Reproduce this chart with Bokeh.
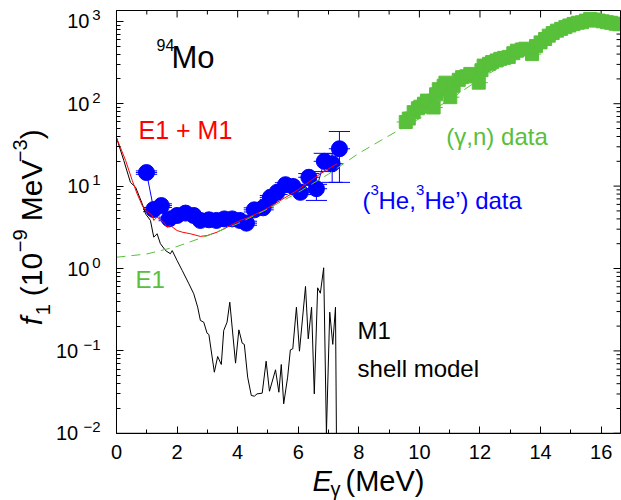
from bokeh.plotting import figure
from bokeh.models import FixedTicker, Label, Range1d, LinearAxis, LogAxis, BoxAnnotation
from bokeh.embed import file_html
from bokeh.resources import INLINE

# ---------------- data ----------------
# M1 shell model strength (black line); 0.01 = runs off the bottom of the scale
m1_x = [0.00, 0.24, 0.46, 0.63, 0.85, 0.96, 1.12, 1.23, 1.34, 1.45, 1.62, 1.78, 1.84, 2.00,
        2.17, 2.39, 2.55, 2.68, 2.77, 2.88, 2.99, 3.05, 3.23, 3.34, 3.46, 3.54, 3.65, 3.74,
        3.93, 4.04, 4.15, 4.22, 4.33, 4.45, 4.55, 4.64, 4.81, 4.94, 5.05, 5.25, 5.36, 5.44,
        5.52, 5.65, 5.74, 5.82, 5.94, 6.04, 6.24, 6.33, 6.44, 6.53, 6.64, 6.73, 6.84, 6.93,
        7.04, 7.14, 7.23, 7.26]
m1_y = [38.6, 20.5, 11.1, 9.7, 6.1, 4.6, 3.83, 2.4, 2.64, 2.0, 1.65, 1.51, 1.65, 1.25,
        0.946, 0.652, 0.493, 0.339, 0.234, 0.223, 0.164, 0.158, 0.0551, 0.0855, 0.0684, 0.177, 0.223, 0.390,
        0.0710, 0.180, 0.124, 0.120, 0.048, 0.0288, 0.0282, 0.0301, 0.0307, 0.075, 0.0324, 0.059, 0.0315, 0.0684,
        0.0228, 0.048, 0.103, 0.106, 0.339, 0.0992, 0.605, 0.140, 0.339, 0.0301, 0.583, 0.501, 1.02, 0.01,
        0.295, 0.120, 0.339, 0.01]

# E1 + M1 (red line)
sum_x = [0.00, 0.30, 0.52, 0.68, 0.85, 0.96, 1.18, 1.23, 1.34, 1.56, 1.67, 1.78, 2.00, 2.17,
         2.44, 2.77, 2.99, 3.32, 3.65, 3.87, 4.09, 4.31, 4.86, 5.96, 6.73, 7.28]
sum_y = [38.6, 20.5, 11.7, 8.07, 5.82, 5.06, 4.4, 3.83, 4.2, 3.65, 3.17, 3.32, 2.89, 2.76,
         2.64, 2.45, 2.51, 2.76, 3.17, 3.5, 3.83, 4.1, 5.06, 8.85, 14.1, 18.7]

# E1 (green dashed line)
e1_x = [0, 1, 2, 3, 4, 5, 6, 7, 8, 9, 10, 11, 12, 13, 14, 15, 16, 16.64]
e1_y = [1.37, 1.5, 1.85, 2.5, 3.5, 5.3, 8.4, 14, 25, 41, 66, 112, 200, 330, 520, 780, 980, 1000]

# (3He,3He') data (blue circles)
he_x = [0.99, 1.23, 1.48, 1.74, 2.00, 2.28, 2.55, 2.77, 3.05, 3.30, 3.56, 3.82, 4.07, 4.29,
        4.55, 4.84, 5.08, 5.30, 5.58, 5.83, 6.07, 6.35, 6.60, 6.86, 7.12, 7.36]
he_y = [14.6, 5.2, 5.8, 4.0, 4.4, 4.7, 4.4, 3.83, 3.9, 3.83, 4.0, 4.0, 3.83, 3.55,
        5.15, 5.45, 7.3, 8.4, 10.4, 9.9, 8.4, 12.8, 9.3, 20.0, 18.7, 28.4]
he_lo = [13.9, 4.9, 5.5, 3.8, 4.2, 4.45, 4.2, 3.65, 3.7, 3.65, 3.8, 3.8, 3.65, 3.35,
         4.85, 5.15, 6.9, 7.9, 9.8, 9.3, 7.9, 10.2, 6.7, 15.0, 11.1, 11.1]
he_hi = [15.3, 5.5, 6.1, 4.2, 4.6, 4.95, 4.6, 4.0, 4.1, 4.0, 4.2, 4.2, 4.0, 3.75,
         5.45, 5.75, 7.7, 8.9, 11.0, 10.5, 8.9, 14.2, 10.5, 25.0, 24.7, 46.0]
he_xerr = 0.35

# (gamma,n) data (green squares)
gn_x = [9.55, 9.65, 9.81, 9.95, 10.03, 10.15, 10.25, 10.47, 10.55, 10.64, 10.80, 10.86, 11.02,
        11.13, 11.30, 11.41, 11.55, 11.68, 11.96, 12.05, 12.12, 12.30, 12.40, 12.55, 12.67,
        12.80, 12.95, 13.10, 13.22, 13.38, 13.50, 13.72, 13.85, 14.00, 14.15, 14.27, 14.40,
        14.54, 14.68, 14.82, 14.95, 15.09, 15.23, 15.37, 15.50, 15.64, 15.78, 15.92, 16.05,
        16.19, 16.33, 16.47, 16.60]
gn_y = [60, 66, 79, 88, 92, 100, 109, 90, 130, 150, 165, 180, 120,
        165, 195, 210, 215, 230, 180, 255, 290, 305, 320, 335, 350,
        360, 370, 410, 440, 455, 465, 400, 500, 555, 610, 670, 720,
        770, 810, 850, 890, 930, 960, 975, 1020, 1070, 1050, 1020, 1000,
        975, 960, 935, 920]
gn_xerr = 0.3

# axes box and ticks
x_lo, x_hi = 0.0, 16.64
y_lo, y_top = 0.01, 1352.0
x_major = [0, 2, 4, 6, 8, 10, 12, 14, 16]
x_minor = [1, 3, 5, 7, 9, 11, 13, 15]
y_exp = [-2, -1, 0, 1, 2, 3]
y_exp_text = ["\u22122", "\u22121", "0", "1", "2", "3"]

RED = "#ff0000"
BLUE = "#0000ff"
GREEN = "#58c03a"
FONT = "Liberation Sans"

# canvas view: frame fills the canvas; axes are pinned at the data box edges
VIEW_X = (-3.8296, 16.672)
VIEW_Y = (0.001529, 1788.6)
PX_PER_DECADE = 82.4
PX_PER_MEV = 30.29

p = figure(width=621, height=500, x_range=Range1d(*VIEW_X), y_range=Range1d(*VIEW_Y),
           y_axis_type="log", x_axis_location=None, y_axis_location=None,
           output_backend="svg", toolbar_location=None, min_border=0)
p.grid.visible = False
p.outline_line_color = None

y_major = [10.0 ** k for k in y_exp]
y_minor = [m * 10.0 ** k for k in y_exp[:-1] for m in range(2, 10)]

xax = LinearAxis(ticker=FixedTicker(ticks=x_major, minor_ticks=x_minor),
                 fixed_location=y_lo, bounds=(x_lo, x_hi))
yax = LogAxis(ticker=FixedTicker(ticks=y_major, minor_ticks=y_minor),
              fixed_location=x_lo, bounds=(y_lo, y_top))
for ax in (xax, yax):
    ax.major_tick_in = 7
    ax.major_tick_out = 0
    ax.minor_tick_in = 4
    ax.minor_tick_out = 0
    ax.axis_line_color = "black"
    ax.major_tick_line_color = "black"
    ax.minor_tick_line_color = "black"
    ax.major_label_text_font = FONT
    ax.major_label_text_font_size = "20px"
    ax.major_label_text_color = "black"
xax.major_label_standoff = 12
yax.major_label_standoff = 16
# "10" mantissa on the axis, padded with figure spaces where the exponent goes
yax.major_label_overrides = {
    v: ("10\u2007\u2007" if k < 0 else "10\u2007") for v, k in zip(y_major, y_exp)
}
p.add_layout(xax, "below")
p.add_layout(yax, "left")

# frame box
p.add_layout(BoxAnnotation(left=x_lo, right=x_hi, bottom=y_lo, top=y_top,
                           fill_alpha=0, line_color="black", line_alpha=1, line_width=1))

# mirror ticks on top and right borders (inward)
maj_dec = 10 ** (-7 / PX_PER_DECADE)
min_dec = 10 ** (-4 / PX_PER_DECADE)
p.segment(x_major, [y_top] * len(x_major), x_major, [y_top * maj_dec] * len(x_major), line_color="black")
p.segment(x_minor, [y_top] * len(x_minor), x_minor, [y_top * min_dec] * len(x_minor), line_color="black")
p.segment([x_hi] * len(y_major), y_major, [x_hi - 7 / PX_PER_MEV] * len(y_major), y_major, line_color="black")
p.segment([x_hi] * len(y_minor), y_minor, [x_hi - 4 / PX_PER_MEV] * len(y_minor), y_minor, line_color="black")

# blue data with error bars
he_x0 = [x - he_xerr for x in he_x]
he_x1 = [x + he_xerr for x in he_x]
p.segment(he_x0, he_y, he_x1, he_y, line_color=BLUE, line_width=1)
p.segment(he_x, he_lo, he_x, he_hi, line_color=BLUE, line_width=1)
p.segment(he_x0, he_lo, he_x1, he_lo, line_color=BLUE, line_width=1)
p.segment(he_x0, he_hi, he_x1, he_hi, line_color=BLUE, line_width=1)
p.line(he_x, he_y, line_color=BLUE, line_width=1)
p.scatter(he_x, he_y, size=16, marker="circle", fill_color=BLUE, line_color=BLUE)

# green (gamma,n) data
p.segment([x - gn_xerr for x in gn_x], gn_y, [x + gn_xerr for x in gn_x], gn_y,
          line_color=GREEN, line_width=1)
p.scatter(gn_x, gn_y, size=13, marker="square", fill_color=GREEN, line_color=GREEN)

# model curves
p.line(m1_x, m1_y, line_color="black", line_width=1)
p.line(sum_x, sum_y, line_color=RED, line_width=1)
p.line(e1_x, e1_y, line_color=GREEN, line_width=1, line_dash="9 6")


def lab(text, x, y, size, color="black", xo=0, yo=0, style="normal", angle=0,
        align="left", baseline="middle"):
    p.add_layout(Label(x=x, y=y, text=text, x_offset=xo, y_offset=yo,
                       text_font=FONT, text_font_size=f"{size}px", text_color=color,
                       text_font_style=style, angle=angle, angle_units="deg",
                       text_align=align, text_baseline=baseline))


# exponents of the y tick labels
for v, et in zip(y_major, y_exp_text):
    lab(et, x_lo, v, 15, xo=-16, yo=6, align="right")

# x axis label: E_gamma (MeV)
lab("E", 6.47, y_lo, 29, yo=-48, style="italic")
lab("\u03b3", 6.47, y_lo, 20, xo=18, yo=-56)
lab("(MeV)", 6.47, y_lo, 29, xo=33, yo=-48)

# y axis label: f_1 (10^-9 MeV^-3), rotated
lab("f", x_lo, y_lo, 30, xo=-85, yo=108, style="italic", angle=90)
lab("1", x_lo, y_lo, 20, xo=-73, yo=118, angle=90)
lab("(10", x_lo, y_lo, 30, xo=-85, yo=137, angle=90)
lab("\u22129", x_lo, y_lo, 20, xo=-96, yo=181, angle=90)
lab("MeV", x_lo, y_lo, 30, xo=-85, yo=212, angle=90)
lab("\u22123", x_lo, y_lo, 20, xo=-96, yo=271, angle=90)
lab(")", x_lo, y_lo, 30, xo=-85, yo=294, angle=90)

# annotations
lab("94", 1.32, 364, 16, yo=12)
lab("Mo", 1.32, 364, 31, xo=15)
lab("E1 + M1", 0.726, 47.3, 25, color=RED)
lab("E1", 0.627, 0.735, 24, color=GREEN)
lab("(\u03b3,n) data", 10.89, 40.0, 24, color=GREEN)
lab("(", 8.12, 6.69, 24, color=BLUE)
lab("3", 8.12, 6.69, 15, color=BLUE, xo=8, yo=10)
lab("He,", 8.12, 6.69, 24, color=BLUE, xo=16)
lab("3", 8.12, 6.69, 15, color=BLUE, xo=53.5, yo=10)
lab("He\u2019) data", 8.12, 6.69, 24, color=BLUE, xo=62)
lab("M1", 7.96, 0.177, 24)
lab("shell model", 7.96, 0.0611, 24)

open("out.html", "w").write(file_html(p, INLINE))
